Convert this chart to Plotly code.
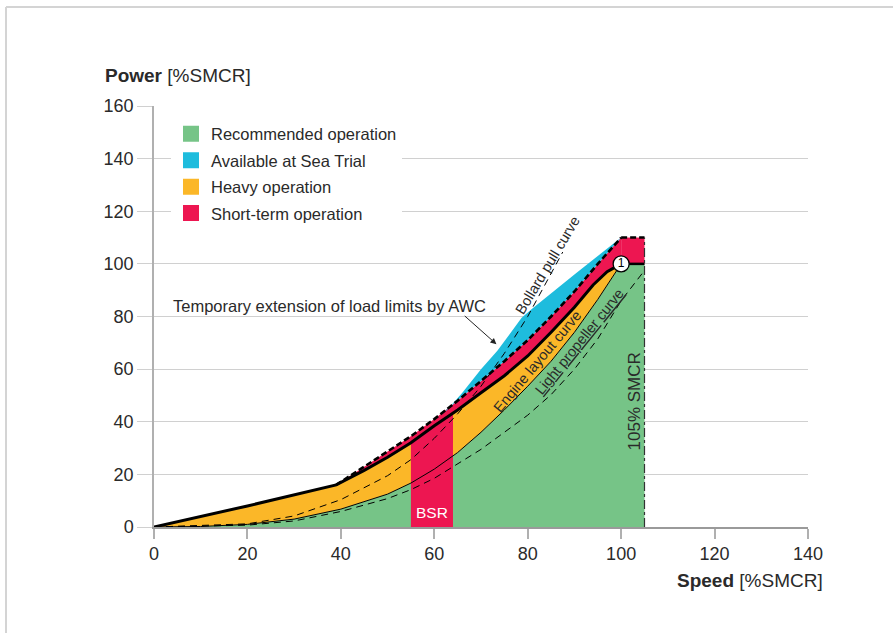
import numpy as np
import plotly.graph_objects as go

# ---------------- data ----------------
ticks_x = [0, 20, 40, 60, 80, 100, 120, 140]
ticks_y = [0, 20, 40, 60, 80, 100, 120, 140, 160]

# engine layout curve
speed_engine = [0, 20, 39, 45, 50, 55, 60, 65, 70, 75, 80, 85, 90, 94, 97, 100]
power_engine = [0, 8, 16, 21.5, 26.5, 32, 38.5, 44.5, 51, 57.5, 65, 74, 83.5, 92, 97, 100]

# heavy propeller curve (recommended / heavy boundary)
speed_prop = [0, 10, 20, 30, 40, 50, 55, 60, 65, 70, 75, 80, 85, 90, 95, 100]
power_prop = [0, 0.2, 1, 3, 6.8, 12.5, 16.7, 22, 28.3, 36, 44.5, 53.5, 63, 74, 86.5, 100]

# light propeller curve
speed_light = [0, 20, 30, 40, 50, 55, 60, 70, 76, 80, 85, 90, 95, 100, 105]
power_light = [0, 0.7, 2.3, 5.9, 10.8, 14.2, 18.5, 29.5, 37.3, 42.5, 50.3, 60, 71.5, 86, 97.5]

# bollard pull curve
speed_bollard = [0, 20, 30, 40, 50, 55, 60, 65, 70, 75, 80, 85, 87.5]
power_bollard = [0, 1.2, 4.2, 10.4, 19.5, 25.6, 33.7, 43, 53.5, 66, 80, 96, 104.5]

# temporary extension of load limits by AWC
speed_awc = [39, 45, 50, 55, 60, 65, 70, 75, 80, 85, 90, 95, 100]
power_awc = [16, 23, 28.5, 34.5, 41, 48, 55.5, 63, 71, 80, 89.5, 100, 110]

# upper limit available at sea trial
speed_trial = [62.5, 66, 70, 73.5, 76, 78.7, 81, 90, 100]
power_trial = [44, 51, 60, 67, 73, 79.5, 83, 96, 110]

# limits
smcr_limit_speed = [100, 105]
smcr_power = [100, 100]
short_term_power = [110, 110]
bsr_speed = [55, 64]
point1 = [100, 100]

legend_names = ["Recommended operation", "Available at Sea Trial",
                "Heavy operation", "Short-term operation"]
GREEN, BLUE, ORANGE, RED = "#76C487", "#1EBCDD", "#FBB728", "#ED1651"
legend_colors = [GREEN, BLUE, ORANGE, RED]
TXT = "#2a2a2a"
FONT = "Liberation Sans, Arial, sans-serif"


def band(xu, yu, xl, yl, x0, x1):
    xu, yu, xl, yl = map(np.asarray, (xu, yu, xl, yl))
    mu = (xu > x0) & (xu < x1)
    ml = (xl > x0) & (xl < x1)
    ux = np.concatenate([[x0], xu[mu], [x1]])
    uy = np.concatenate([[np.interp(x0, xu, yu)], yu[mu], [np.interp(x1, xu, yu)]])
    lx = np.concatenate([[x0], xl[ml], [x1]])
    ly = np.concatenate([[np.interp(x0, xl, yl)], yl[ml], [np.interp(x1, xl, yl)]])
    return np.concatenate([ux, lx[::-1]]), np.concatenate([uy, ly[::-1]])


fig = go.Figure()

def area(x, y, color):
    fig.add_trace(go.Scatter(x=list(x), y=list(y), fill="toself", fillcolor=color,
                             mode="lines", line=dict(width=0), hoverinfo="skip",
                             showlegend=False))

# green: recommended operation
gx = list(speed_prop) + [smcr_limit_speed[1], smcr_limit_speed[1]]
gy = list(power_prop) + [smcr_power[1], 0]
area(gx, gy, GREEN)

# orange: heavy operation
ox, oy = band(speed_engine, power_engine, speed_prop, power_prop, 0, 100)
area(ox, oy, ORANGE)

# red: short term (AWC strip)
rx, ry = band(speed_awc, power_awc, speed_engine, power_engine, speed_awc[0], speed_awc[-1])
area(rx, ry, RED)
area([smcr_limit_speed[0], smcr_limit_speed[0], smcr_limit_speed[1], smcr_limit_speed[1]],
     [smcr_power[0], short_term_power[0], short_term_power[1], smcr_power[1]], RED)

# BSR band
bx, by = band(speed_engine, power_engine, [0, 140], [0, 0], bsr_speed[0], bsr_speed[1])
area(bx, by, RED)

# blue: available at sea trial
ux, uy = band(speed_trial, power_trial, speed_awc, power_awc, speed_trial[0], speed_trial[-1])
area(ux, uy, BLUE)

def line(x, y, width, dash="solid", color="black"):
    fig.add_trace(go.Scatter(x=x, y=y, mode="lines", hoverinfo="skip", showlegend=False,
                             line=dict(color=color, width=width, dash=dash)))

line(speed_prop, power_prop, 1)
line(speed_light, power_light, 1, "7px,5px")
line(speed_bollard, power_bollard, 1, "7px,5px")
line(speed_awc, power_awc, 2.6, "6px,3px")
line(smcr_limit_speed, short_term_power, 2.6, "6px,3px")
line(speed_engine, power_engine, 3)
line(smcr_limit_speed, smcr_power, 2.5)
line([smcr_limit_speed[1], smcr_limit_speed[1]], [0, short_term_power[1]], 1.2, "dashdot", "#333")

# point 1
fig.add_trace(go.Scatter(x=[point1[0]], y=[point1[1]], mode="markers+text", text=["1"],
                         textposition="middle center", hoverinfo="skip", showlegend=False,
                         textfont=dict(size=12, color="black", family=FONT),
                         marker=dict(size=16, color="white", line=dict(color="black", width=1.3))))

# legend entries
for i, (n, c) in enumerate(zip(legend_names, legend_colors)):
    fig.add_trace(go.Scatter(x=[None], y=[None], mode="markers", name=n, legendgroup=str(i),
                             marker=dict(symbol="square", size=17, color=c)))

ann = [
    dict(x=3.6, y=84, text="Temporary extension of load limits by AWC", xanchor="left",
         showarrow=False, font=dict(size=16.5, color=TXT)),
    dict(x=73.3, y=69.5, ax=66.2, ay=80.7, axref="x", ayref="y", text="", showarrow=True,
         arrowhead=2, arrowsize=1.2, arrowwidth=1, arrowcolor="#222"),
    dict(x=84.3, y=99.5, text="Bollard pull curve", textangle=-59, showarrow=False,
         font=dict(size=14.5, color=TXT)),
    dict(x=82.2, y=62.9, text="Engine layout curve", textangle=-50, showarrow=False,
         font=dict(size=14.5, color=TXT)),
    dict(x=91.0, y=70.3, text="<u>Light</u> <u>propeller</u> <u>curve</u>", textangle=-51,
         showarrow=False, font=dict(size=14.5, color=TXT)),
    dict(x=102.8, y=47.8, text="105% SMCR", textangle=-90, showarrow=False,
         font=dict(size=17, color=TXT)),
    dict(x=59.5, y=5.4, text="BSR", showarrow=False, font=dict(size=15.5, color="white")),
    dict(x=-0.078, y=1.0736, xref="paper", yref="paper", xanchor="left", yanchor="middle",
         text="<b>Power</b> [%SMCR]", showarrow=False, font=dict(size=19, color=TXT)),
    dict(x=1.0255, y=-0.1275, xref="paper", yref="paper", xanchor="right", yanchor="middle",
         text="<b>Speed</b> [%SMCR]", showarrow=False, font=dict(size=19, color=TXT)),
]

shapes = [
    dict(type="line", xref="paper", yref="paper", x0=-0.2263, x1=1.2, y0=1.235, y1=1.235,
         line=dict(color="#d4d4d4", width=2)),
    dict(type="line", xref="paper", yref="paper", x0=-0.2263, x1=-0.2263, y0=1.235, y1=-0.3,
         line=dict(color="#d4d4d4", width=2)),
]

fig.update_layout(
    width=893, height=633,
    margin=dict(l=154, r=85, t=106, b=106),
    paper_bgcolor="white", plot_bgcolor="white",
    font=dict(family=FONT, color=TXT),
    showlegend=True,
    legend=dict(x=0.026, y=0.975, xanchor="left", yanchor="top", bgcolor="white",
                font=dict(size=16.5, color=TXT), tracegroupgap=2, itemclick=False),
    annotations=ann, shapes=shapes,
    xaxis=dict(range=[0, 140], tickvals=ticks_x, showgrid=False, zeroline=False,
               showline=True, linecolor="#9a9a9a", linewidth=1.5, ticks="outside",
               ticklen=10, tickcolor="#b0b0b0", tickwidth=1.5,
               tickfont=dict(size=18, color=TXT)),
    yaxis=dict(range=[0, 160], tickvals=ticks_y, showgrid=True, gridcolor="#d0d0d0",
               gridwidth=1, zeroline=False, showline=True, linecolor="#b0b0b0",
               linewidth=1.5, ticks="outside", ticklen=15, tickcolor="#d0d0d0",
               tickfont=dict(size=18, color=TXT)),
)

fig.write_html("out.html", config={"displayModeBar": False},
               post_script="document.body.style.margin='0';")
